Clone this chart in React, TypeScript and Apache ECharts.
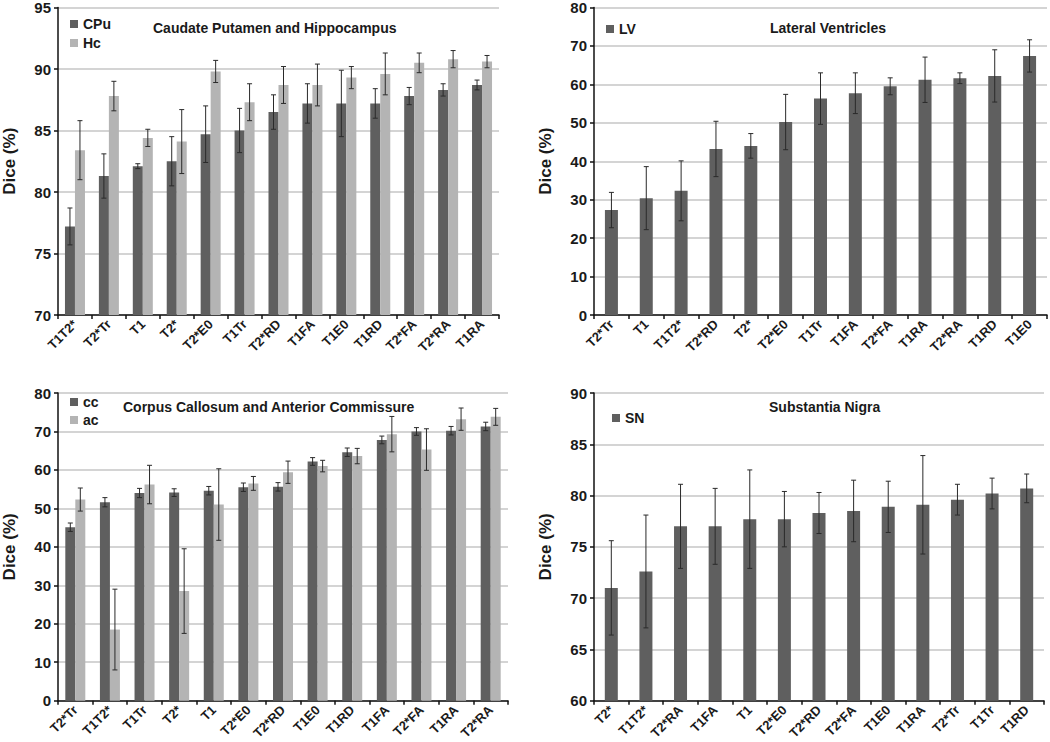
import React, { useEffect, useRef } from "react";
import * as echarts from "echarts";

// Panel 1: Caudate Putamen and Hippocampus
const cats1 = ["T1T2*", "T2*Tr", "T1", "T2*", "T2*E0", "T1Tr", "T2*RD", "T1FA", "T1E0", "T1RD", "T2*FA", "T2*RA", "T1RA"];
const cpu = [77.2, 81.3, 82.1, 82.5, 84.7, 85.0, 86.5, 87.2, 87.2, 87.2, 87.8, 88.3, 88.7];
const cpuErr = [1.5, 1.8, 0.2, 2.0, 2.3, 1.8, 1.4, 1.6, 2.7, 1.2, 0.7, 0.5, 0.4];
const hc = [83.4, 87.8, 84.4, 84.1, 89.8, 87.3, 88.7, 88.7, 89.3, 89.6, 90.5, 90.8, 90.6];
const hcErr = [2.4, 1.2, 0.7, 2.6, 0.9, 1.5, 1.5, 1.7, 0.9, 1.7, 0.8, 0.7, 0.5];

// Panel 2: Lateral Ventricles
const cats2 = ["T2*Tr", "T1", "T1T2*", "T2*RD", "T2*", "T2*E0", "T1Tr", "T1FA", "T2*FA", "T1RA", "T2*RA", "T1RD", "T1E0"];
const lv = [27.3, 30.4, 32.3, 43.2, 44.0, 50.2, 56.3, 57.7, 59.5, 61.2, 61.6, 62.2, 67.4];
const lvErr = [4.6, 8.2, 7.8, 7.2, 3.2, 7.2, 6.7, 5.3, 2.2, 5.9, 1.4, 6.8, 4.2];

// Panel 3: Corpus Callosum and Anterior Commissure
const cats3 = ["T2*Tr", "T1T2*", "T1Tr", "T2*", "T1", "T2*E0", "T2*RD", "T1E0", "T1RD", "T1FA", "T2*FA", "T1RA", "T2*RA"];
const cc = [45.1, 51.6, 54.0, 54.1, 54.6, 55.5, 55.6, 62.2, 64.6, 67.8, 70.0, 70.2, 71.3];
const ccErr = [1.1, 1.2, 1.2, 1.0, 1.1, 1.1, 1.1, 1.0, 1.1, 1.0, 1.0, 1.1, 1.1];
const ac = [52.3, 18.5, 56.2, 28.5, 51.0, 56.5, 59.4, 61.0, 63.6, 69.3, 65.3, 73.2, 73.8];
const acErr = [3.0, 10.5, 5.0, 11.0, 9.3, 1.8, 2.9, 1.5, 2.0, 4.6, 5.4, 2.9, 2.2];

// Panel 4: Substantia Nigra
const cats4 = ["T2*", "T1T2*", "T2*RA", "T1FA", "T1", "T2*E0", "T2*RD", "T2*FA", "T1E0", "T1RA", "T2*Tr", "T1Tr", "T1RD"];
const sn = [71.0, 72.6, 77.0, 77.0, 77.7, 77.7, 78.3, 78.5, 78.9, 79.1, 79.6, 80.2, 80.7];
const snErr = [4.6, 5.5, 4.1, 3.7, 4.8, 2.7, 2.0, 3.0, 2.5, 4.8, 1.5, 1.5, 1.4];

const titles = [
  "Caudate Putamen and Hippocampus",
  "Lateral Ventricles",
  "Corpus Callosum and Anterior Commissure",
  "Substantia Nigra",
];

const DARK = "#5f5f5f";
const LIGHT = "#b4b4b4";
const FONT = "Liberation Sans, Arial, sans-serif";

function errSeries(name: string, idx: number, vals: number[], errs: number[], offset: number) {
  return {
    type: "custom",
    name,
    xAxisIndex: idx,
    yAxisIndex: idx,
    z: 10,
    data: vals.map((v, i) => [i, v - errs[i], v + errs[i]]),
    encode: { x: 0, y: [1, 2] },
    renderItem: (params: any, api: any) => {
      const x = api.value(0);
      const lo = api.coord([x, api.value(1)]);
      const hi = api.coord([x, api.value(2)]);
      const cx = lo[0] + offset;
      const cap = 2.5;
      const st = { stroke: "#2a2a2a", lineWidth: 1 };
      return {
        type: "group",
        children: [
          { type: "line", shape: { x1: cx, y1: hi[1], x2: cx, y2: lo[1] }, style: st },
          { type: "line", shape: { x1: cx - cap, y1: hi[1], x2: cx + cap, y2: hi[1] }, style: st },
          { type: "line", shape: { x1: cx - cap, y1: lo[1], x2: cx + cap, y2: lo[1] }, style: st },
        ],
      };
    },
  };
}

function xAxis(idx: number, data: string[]) {
  return {
    type: "category",
    gridIndex: idx,
    data,
    boundaryGap: true,
    axisLine: { show: true, lineStyle: { color: "#111", width: 1.5 } },
    axisTick: { show: true, length: 4, lineStyle: { color: "#111", width: 1.5 } },
    axisLabel: {
      interval: 0,
      rotate: 45,
      margin: 7,
      color: "#1a1a1a",
      fontFamily: FONT,
      fontWeight: "bold",
      fontSize: 13,
    },
  };
}

function yAxis(idx: number, min: number, max: number, interval: number) {
  return {
    type: "value",
    gridIndex: idx,
    min,
    max,
    interval,
    name: "Dice (%)",
    nameLocation: "middle",
    nameGap: 40,
    nameTextStyle: { color: "#1a1a1a", fontFamily: FONT, fontWeight: "bold", fontSize: 17 },
    axisLine: { show: true, lineStyle: { color: "#111", width: 1.5 } },
    axisTick: { show: true, length: 4, lineStyle: { color: "#111", width: 1.5 } },
    axisLabel: { margin: 7, color: "#1a1a1a", fontFamily: FONT, fontWeight: "bold", fontSize: 15 },
    splitLine: { show: true, lineStyle: { color: "#c6c6c6", width: 1.5 } },
  };
}

function bar(name: string, idx: number, data: number[], color: string, width: number) {
  return {
    type: "bar",
    name,
    xAxisIndex: idx,
    yAxisIndex: idx,
    data,
    barWidth: width,
    barGap: "0%",
    itemStyle: { color },
  };
}

export default function App() {
  const ref = useRef<HTMLDivElement>(null);
  useEffect(() => {
    if (!ref.current) return;
    const chart = echarts.init(ref.current, null, { renderer: "svg" });
    const legendText = { color: "#1a1a1a", fontFamily: FONT, fontWeight: "bold", fontSize: 14 };
    const titleText = { color: "#1a1a1a", fontFamily: FONT, fontWeight: "bold", fontSize: 14 };
    chart.setOption({
      animation: false,
      backgroundColor: "#ffffff",
      title: [
        { text: titles[0], left: 153, top: 21, padding: 0, textStyle: titleText },
        { text: titles[1], left: 770, top: 21, padding: 0, textStyle: titleText },
        { text: titles[2], left: 123, top: 400, padding: 0, textStyle: titleText },
        { text: titles[3], left: 769, top: 400, padding: 0, textStyle: titleText },
      ],
      legend: [
        { data: ["CPu", "Hc"], orient: "vertical", left: 70, top: 17, itemWidth: 8, itemHeight: 8, itemGap: 5, icon: "rect", padding: 0, textStyle: legendText, selectedMode: false },
        { data: ["LV"], orient: "vertical", left: 606, top: 22, itemWidth: 8, itemHeight: 8, icon: "rect", padding: 0, textStyle: legendText, selectedMode: false },
        { data: ["cc", "ac"], orient: "vertical", left: 70, top: 395, itemWidth: 8, itemHeight: 8, itemGap: 4, icon: "rect", padding: 0, textStyle: legendText, selectedMode: false },
        { data: ["SN"], orient: "vertical", left: 612, top: 411, itemWidth: 8, itemHeight: 8, icon: "rect", padding: 0, textStyle: legendText, selectedMode: false },
      ],
      grid: [
        { left: 57, top: 7, width: 442, height: 308 },
        { left: 594, top: 7, width: 453, height: 308 },
        { left: 57, top: 393, width: 451, height: 308 },
        { left: 594, top: 393, width: 450, height: 308 },
      ],
      xAxis: [xAxis(0, cats1), xAxis(1, cats2), xAxis(2, cats3), xAxis(3, cats4)],
      yAxis: [yAxis(0, 70, 95, 5), yAxis(1, 0, 80, 10), yAxis(2, 0, 80, 10), yAxis(3, 60, 90, 5)],
      series: [
        bar("CPu", 0, cpu, DARK, 10),
        bar("Hc", 0, hc, LIGHT, 10),
        errSeries("CPu error", 0, cpu, cpuErr, -5),
        errSeries("Hc error", 0, hc, hcErr, 5),
        bar("LV", 1, lv, DARK, 13),
        errSeries("LV error", 1, lv, lvErr, 0),
        bar("cc", 2, cc, DARK, 10),
        bar("ac", 2, ac, LIGHT, 10),
        errSeries("cc error", 2, cc, ccErr, -5),
        errSeries("ac error", 2, ac, acErr, 5),
        bar("SN", 3, sn, DARK, 13),
        errSeries("SN error", 3, sn, snErr, 0),
      ],
    });
    return () => chart.dispose();
  }, []);
  return (
    <div
      ref={ref}
      style={{ position: "absolute", left: 0, top: 0, width: 1050, height: 742, background: "#fff" }}
    />
  );
}
